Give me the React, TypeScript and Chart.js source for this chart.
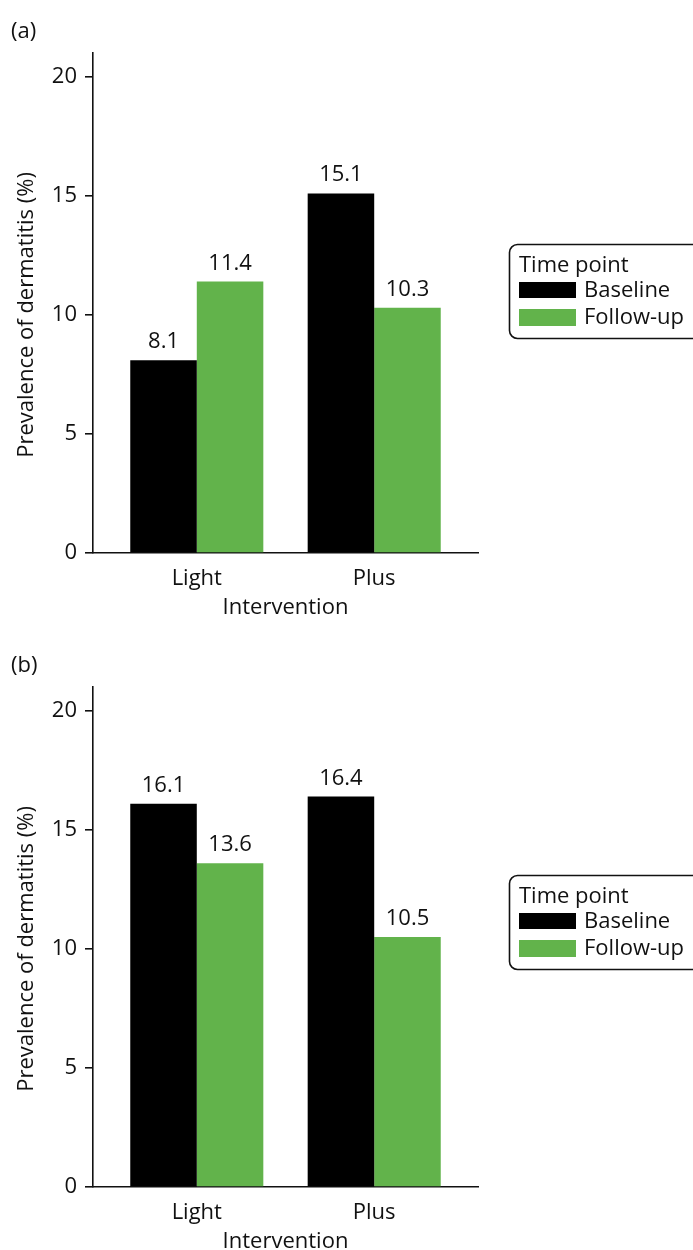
import React, { useEffect, useRef } from 'react';
import { Chart, registerables } from 'chart.js';
Chart.register(...registerables);

const categories = ['Light', 'Plus'];
const seriesNames = ['Baseline', 'Follow-up'];
const baselineA = [8.1, 15.1];
const followUpA = [11.4, 10.3];
const baselineB = [16.1, 16.4];
const followUpB = [13.6, 10.5];
const yTicks = [0, 5, 10, 15, 20];
const panelLabels = ['(a)', '(b)'];
const xTitle = 'Intervention';
const yTitle = 'Prevalence of dermatitis (%)';
const legendTitle = 'Time point';

const COLORS = ['#000000', '#62B34B'];
const TEXT = '#111111';
const FONT_FAMILY = '"Open Sans", sans-serif';
const FS = 22;

function Panel({ label, base, follow, top, height, legendTop }: any) {
  const ref = useRef<HTMLCanvasElement>(null);
  useEffect(() => {
    const canvas = ref.current;
    if (!canvas) return;
    const overlay = {
      id: 'overlay',
      afterDraw(chart: any) {
        const ctx = chart.ctx;
        const y = chart.scales.y;
        ctx.save();
        ctx.fillStyle = TEXT;
        ctx.font = `${FS}px ${FONT_FAMILY}`;
        ctx.textBaseline = 'alphabetic';
        ctx.textAlign = 'left';
        ctx.fillText(label, 11, 38);
        ctx.textAlign = 'center';
        chart.data.datasets.forEach((ds: any, di: number) => {
          const meta = chart.getDatasetMeta(di);
          meta.data.forEach((el: any, i: number) => {
            const v = ds.data[i].y;
            ctx.fillText(v.toFixed(1), el.x, el.y - 12);
          });
        });
        ctx.fillText(xTitle, (chart.chartArea.left + chart.chartArea.right) / 2, 614);
        const cy = (y.getPixelForValue(0) + y.getPixelForValue(20)) / 2;
        ctx.save();
        ctx.translate(33, cy);
        ctx.rotate(-Math.PI / 2);
        ctx.fillText(yTitle, 0, 0);
        ctx.restore();
        // legend
        const lt = legendTop;
        ctx.beginPath();
        ctx.lineWidth = 1.6;
        ctx.strokeStyle = TEXT;
        ctx.roundRect(509.5, lt + 0.5, 200, 94, 8);
        ctx.stroke();
        ctx.textAlign = 'left';
        ctx.fillText(legendTitle, 519, lt + 28);
        ctx.fillStyle = COLORS[0];
        ctx.fillRect(519, lt + 38, 57, 16);
        ctx.fillStyle = COLORS[1];
        ctx.fillRect(519, lt + 65, 57, 17);
        ctx.fillStyle = TEXT;
        ctx.fillText(seriesNames[0], 584, lt + 53);
        ctx.fillText(seriesNames[1], 584, lt + 80);
        ctx.restore();
      },
    };
    const font = { family: FONT_FAMILY, size: FS };
    const chart = new Chart(canvas, {
      type: 'bar',
      data: {
        datasets: [
          {
            label: seriesNames[0],
            data: base.map((v: number, i: number) => ({ x: i, y: v })),
            backgroundColor: COLORS[0],
            borderWidth: 0,
            barPercentage: 1,
            categoryPercentage: 0.75,
          },
          {
            label: seriesNames[1],
            data: follow.map((v: number, i: number) => ({ x: i, y: v })),
            backgroundColor: COLORS[1],
            borderWidth: 0,
            barPercentage: 1,
            categoryPercentage: 0.75,
          },
        ],
      } as any,
      options: {
        animation: false,
        responsive: false,
        devicePixelRatio: 1,
        layout: { padding: { left: 0, right: 215, top: 53, bottom: 0 } },
        plugins: { legend: { display: false }, tooltip: { enabled: false }, title: { display: false } },
        scales: {
          x: {
            type: 'linear',
            min: -0.585,
            max: 1.585,
            offset: false,
            grid: { display: false, offset: false },
            border: { display: true, color: TEXT, width: 1.6 },
            ticks: {
              font,
              color: TEXT,
              padding: 5,
              autoSkip: false,
              maxRotation: 0,
              callback: (v: any) => categories[v] ?? '',
            },
            afterBuildTicks: (s: any) => {
              s.ticks = categories.map((_, i) => ({ value: i }));
            },
            afterFit: (s: any) => {
              s.height = 63;
            },
          },
          y: {
            type: 'linear',
            min: 0,
            max: 21,
            grid: { drawOnChartArea: false, drawTicks: true, tickLength: 8, color: TEXT, lineWidth: 1.6 },
            border: { display: true, color: TEXT, width: 1.6 },
            ticks: { font, color: TEXT, padding: 8 },
            afterBuildTicks: (s: any) => {
              s.ticks = yTicks.map((v) => ({ value: v }));
            },
            afterFit: (s: any) => {
              s.width = 93;
            },
          },
        },
      } as any,
      plugins: [overlay],
    });
    return () => chart.destroy();
  }, []);
  return (
    <canvas
      ref={ref}
      width={693}
      height={height}
      style={{ position: 'absolute', left: 0, top, width: 693, height, display: 'block' }}
    />
  );
}

export default function App() {
  return (
    <div style={{ position: 'absolute', left: 0, top: 0, width: 693, height: 1250, background: '#fff', overflow: 'hidden' }}>
      <Panel label={panelLabels[0]} base={baselineA} follow={followUpA} top={0} height={616} legendTop={244} />
      <Panel label={panelLabels[1]} base={baselineB} follow={followUpB} top={634} height={616} legendTop={241} />
    </div>
  );
}
